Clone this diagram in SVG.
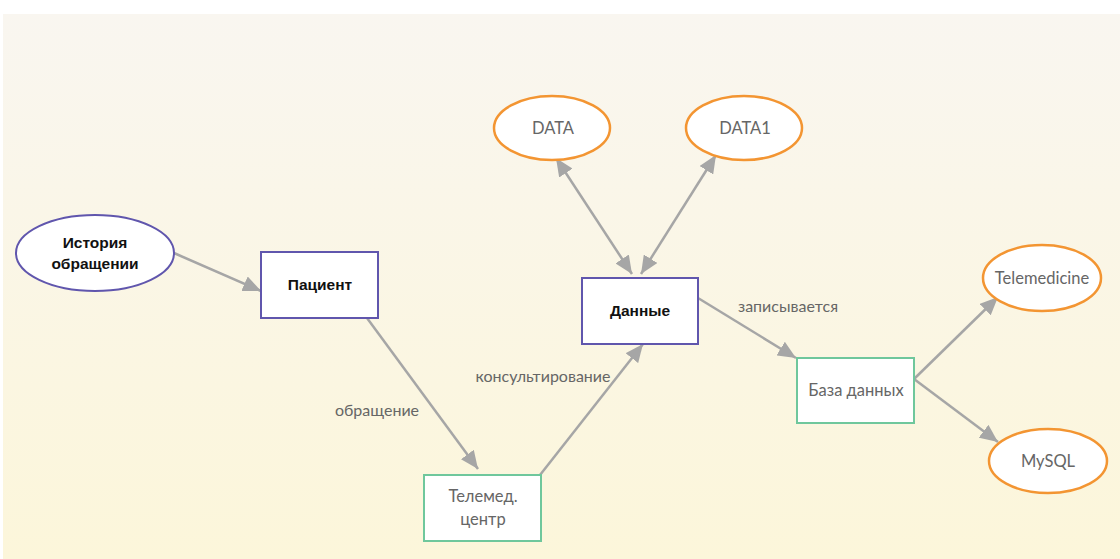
<svg xmlns="http://www.w3.org/2000/svg" width="1120" height="559" viewBox="0 0 1120 559">
<defs>
<linearGradient id="bg" x1="0" y1="0" x2="0" y2="1">
<stop offset="0" stop-color="#f9f6f0"/>
<stop offset="1" stop-color="#fcf6da"/>
</linearGradient>
<marker id="arr" viewBox="0 0 18 16" refX="18" refY="8" markerWidth="18" markerHeight="16" markerUnits="userSpaceOnUse" orient="auto-start-reverse">
<path d="M0,0 L18,8 L0,16 Z" fill="#a6a6a6"/>
</marker>
<style>
.purple{fill:#fff;stroke:#6056ad;stroke-width:2}
.orange{fill:#fff;stroke:#f39532;stroke-width:2.5}
.green{fill:#fff;stroke:#6fc79c;stroke-width:2}
.bold{font-family:"Liberation Sans",Arial,sans-serif;font-weight:bold;font-size:15.5px;fill:#111;text-anchor:middle}
.lbl{font-family:Lato,"Noto Sans",sans-serif;font-size:16.5px;fill:#666;text-anchor:middle}
.elbl{font-family:Lato,"Noto Sans",sans-serif;font-size:16px;fill:#666;text-anchor:middle}
.conn{stroke:#a6a6a6;stroke-width:2.5;fill:none}
</style>
</defs>
<rect x="0" y="0" width="1120" height="559" fill="#fff"/>
<rect x="3" y="14" width="1117" height="545" fill="url(#bg)"/>
<g id="connectors">
<line class="conn" x1="174" y1="253" x2="261" y2="291" marker-end="url(#arr)"/>
<line class="conn" x1="367" y1="318" x2="478" y2="469" marker-end="url(#arr)"/>
<line class="conn" x1="540" y1="475" x2="643" y2="344" marker-end="url(#arr)"/>
<line class="conn" x1="556" y1="158" x2="632" y2="274" marker-start="url(#arr)" marker-end="url(#arr)"/>
<line class="conn" x1="716" y1="155" x2="641" y2="274" marker-start="url(#arr)" marker-end="url(#arr)"/>
<line class="conn" x1="698" y1="298" x2="796" y2="358" marker-end="url(#arr)"/>
<line class="conn" x1="914" y1="379" x2="998" y2="297" marker-end="url(#arr)"/>
<line class="conn" x1="914" y1="379" x2="998" y2="442" marker-end="url(#arr)"/>
<text class="elbl" x="788" y="312">записывается</text>
<text class="elbl" x="543" y="382">консультирование</text>
<text class="elbl" x="377" y="416">обращение</text>
</g>
<g id="history">
<ellipse class="purple" cx="95" cy="253" rx="79" ry="38"/>
<text class="bold" x="95" y="248">История</text>
<text class="bold" x="95" y="269">обращении</text>
</g>
<g id="patient">
<rect class="purple" x="261" y="252" width="117" height="66"/>
<text class="bold" x="320" y="290">Пациент</text>
</g>
<g id="data">
<rect class="purple" x="582" y="278" width="116" height="66"/>
<text class="bold" x="640" y="316">Данные</text>
</g>
<g id="telemed">
<rect class="green" x="424" y="475" width="117" height="66"/>
<text class="lbl" x="483" y="502">Телемед.</text>
<text class="lbl" x="483" y="525">центр</text>
</g>
<g id="db">
<rect class="green" x="797" y="358" width="117" height="65"/>
<text class="lbl" x="856" y="396">База данных</text>
</g>
<g id="DATA">
<ellipse class="orange" cx="552" cy="128" rx="58" ry="32"/>
<text class="lbl" x="553" y="134">DATA</text>
</g>
<g id="DATA1">
<ellipse class="orange" cx="744" cy="128" rx="58" ry="32"/>
<text class="lbl" x="745" y="134">DATA1</text>
</g>
<g id="telemedicine">
<ellipse class="orange" cx="1042" cy="278" rx="59" ry="33"/>
<text class="lbl" x="1042" y="284">Telemedicine</text>
</g>
<g id="mysql">
<ellipse class="orange" cx="1048" cy="461" rx="59" ry="32"/>
<text class="lbl" x="1048" y="467">MySQL</text>
</g>
</svg>
